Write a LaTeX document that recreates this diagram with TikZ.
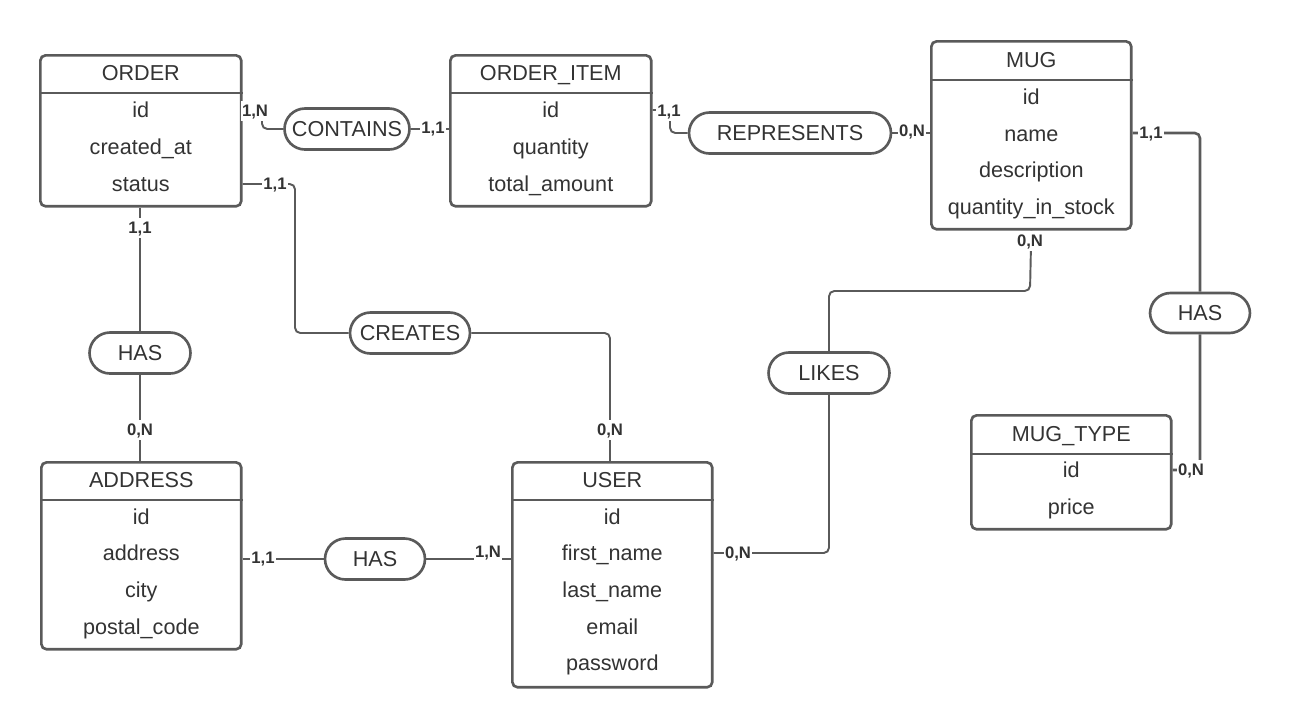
\documentclass[tikz,border=0pt]{standalone}
\usepackage{fontspec}
\setmainfont{Liberation Sans}
\usetikzlibrary{positioning}

\definecolor{linegray}{HTML}{5A5A5A}
\definecolor{textgray}{HTML}{333333}

\tikzset{
  entitybox/.style={draw=linegray, line width=1.5pt, rounded corners=3pt,
    anchor=north west, inner sep=0pt},
  attr/.style={text=textgray, font=\fontsize{12.3}{14}\selectfont, inner sep=0pt,
    text height=11.2pt, text depth=2.6pt},
  relbox/.style={draw=linegray, line width=1.5pt, fill=white, text=textgray,
    rounded corners=0.41cm, minimum height=0.82cm, inner sep=0pt,
    font=\fontsize{12.3}{14}\selectfont},
  card/.style={fill=white, text=textgray, inner sep=0.6pt,
    text height=8.4pt, text depth=1.6pt,
    font=\bfseries\fontsize{9.5}{11}\selectfont},
  conn/.style={draw=linegray, line width=1.1pt, rounded corners=3pt},
  thickconn/.style={conn, line width=1.5pt},
}

\begin{document}
\begin{tikzpicture}[x=0.02cm, y=-0.02cm]
\useasboundingbox (0,0) rectangle (1290,725);

% entities
\node[entitybox, minimum width=4.02cm, minimum height=3.02cm] (order) at (39,54) {};
\draw[linegray, line width=1.5pt] (order.west |- 0,93) -- (order.east |- 0,93);
\node[attr] at (order.north |- 0,73) {ORDER};
\node[attr] at (order.north |- 0,110) {id};
\node[attr] at (order.north |- 0,147) {created\_at};
\node[attr] at (order.north |- 0,184) {status};

\node[entitybox, minimum width=4.02cm, minimum height=3.02cm] (orderitem) at (449,54) {};
\draw[linegray, line width=1.5pt] (orderitem.west |- 0,93) -- (orderitem.east |- 0,93);
\node[attr] at (orderitem.north |- 0,73) {ORDER\_ITEM};
\node[attr] at (orderitem.north |- 0,110) {id};
\node[attr] at (orderitem.north |- 0,147) {quantity};
\node[attr] at (orderitem.north |- 0,184) {total\_amount};

\node[entitybox, minimum width=4cm, minimum height=3.76cm] (mug) at (930,40) {};
\draw[linegray, line width=1.5pt] (mug.west |- 0,80) -- (mug.east |- 0,80);
\node[attr] at (mug.north |- 0,60) {MUG};
\node[attr] at (mug.north |- 0,97) {id};
\node[attr] at (mug.north |- 0,134) {name};
\node[attr] at (mug.north |- 0,170) {description};
\node[attr] at (mug.north |- 0,207) {quantity\_in\_stock};

\node[entitybox, minimum width=4cm, minimum height=3.74cm] (address) at (40,461) {};
\draw[linegray, line width=1.5pt] (address.west |- 0,500) -- (address.east |- 0,500);
\node[attr] at (address.north |- 0,480) {ADDRESS};
\node[attr] at (address.north |- 0,517) {id};
\node[attr] at (address.north |- 0,553) {address};
\node[attr] at (address.north |- 0,590) {city};
\node[attr] at (address.north |- 0,627) {postal\_code};

\node[entitybox, minimum width=4cm, minimum height=4.5cm] (user) at (511,461) {};
\draw[linegray, line width=1.5pt] (user.west |- 0,500) -- (user.east |- 0,500);
\node[attr] at (user.north |- 0,480) {USER};
\node[attr] at (user.north |- 0,517) {id};
\node[attr] at (user.north |- 0,553) {first\_name};
\node[attr] at (user.north |- 0,590) {last\_name};
\node[attr] at (user.north |- 0,627) {email};
\node[attr] at (user.north |- 0,663) {password};

\node[entitybox, minimum width=4cm, minimum height=2.28cm] (mugtype) at (970,414) {};
\draw[linegray, line width=1.5pt] (mugtype.west |- 0,454) -- (mugtype.east |- 0,454);
\node[attr] at (mugtype.north |- 0,434) {MUG\_TYPE};
\node[attr] at (mugtype.north |- 0,470) {id};
\node[attr] at (mugtype.north |- 0,507) {price};

% relationships
\node[relbox, minimum width=2.5cm] (contains) at (347,129) {CONTAINS};
\node[relbox, minimum width=4.04cm] (represents) at (790,133) {REPRESENTS};
\node[relbox, minimum width=2.4cm] (creates) at (410,333) {CREATES};
\node[relbox, minimum width=2.42cm] (likes) at (829,373) {LIKES};
\node[relbox, minimum width=2.02cm] (hasaddress) at (140,353) {HAS};
\node[relbox, minimum width=2cm] (hasuser) at (375,559) {HAS};
\node[relbox, minimum width=2cm, minimum height=0.8cm] (hasmug) at (1200,313) {HAS};

% connectors
\draw[conn] (order.east |- 0,110) -- (262,110) -- (262,129) -- (contains.west);
\draw[conn] (contains.east) -- (orderitem.west |- contains.east);
\draw[conn] (orderitem.east |- 0,110) -- (670,110) -- (670,133) -- (represents.west);
\draw[conn] (represents.east) -- (mug.west |- represents.east);
\draw[thickconn] (mug.east |- 0,133) -- (1200,133) -- (hasmug.north);
\draw[thickconn] (hasmug.south) -- (1200,470) -- (mugtype.east |- 0,470);
\draw[thickconn] (order.south -| hasaddress) -- (hasaddress.north);
\draw[thickconn] (hasaddress.south) -- (address.north -| hasaddress);
\draw[conn] (order.east |- 0,184) -- (295,184) -- (295,333) -- (creates.west);
\draw[conn] (creates.east) -- (610,333) -- (user.north -| 610,0);
\draw[conn] (user.east |- 0,553) -- (829,553) -- (likes.south);
\draw[conn] (likes.north) -- (829,291) -- (1030,291) -- (mug.south);
\draw[thickconn] (address.east |- 0,559) -- (hasuser.west);
\draw[thickconn] (hasuser.east) -- (user.west |- hasuser.east);

% cardinalities
\node[card] at (255,111) {1,N};
\node[card] at (433,128) {1,1};
\node[card] at (669,111) {1,1};
\node[card] at (912,131) {0,N};
\node[card] at (1151,133) {1,1};
\node[card] at (1191,470) {0,N};
\node[card] at (140,228) {1,1};
\node[card] at (140,430) {0,N};
\node[card] at (275,184) {1,1};
\node[card] at (610,430) {0,N};
\node[card] at (738,553) {0,N};
\node[card] at (1030,241) {0,N};
\node[card] at (263,558) {1,1};
\node[card] at (488,552) {1,N};
\end{tikzpicture}
\end{document}
